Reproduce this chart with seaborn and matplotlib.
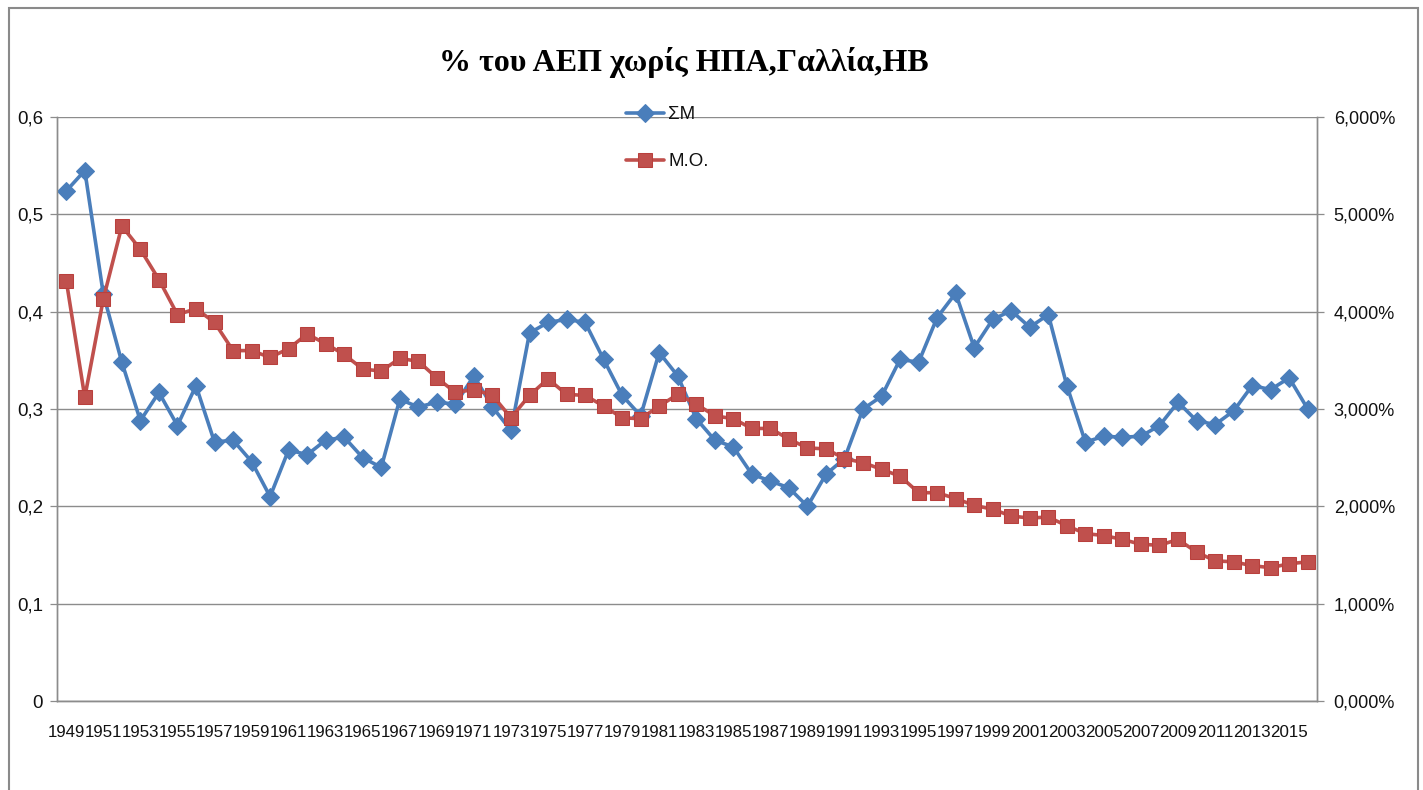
import numpy as np
import pandas as pd
import matplotlib
matplotlib.use("Agg")
import matplotlib.pyplot as plt
import matplotlib.ticker as mticker
from matplotlib.patches import Rectangle
import seaborn as sns

# ---------------- data ----------------
years = list(range(1949, 2017))

sm_values = [
    0.524, 0.545, 0.418, 0.348, 0.288, 0.317, 0.283, 0.324, 0.266, 0.268,  # 1949-1958
    0.246, 0.210, 0.258, 0.253, 0.268, 0.271, 0.250, 0.240, 0.310, 0.302,  # 1959-1968
    0.307, 0.305, 0.334, 0.302, 0.278, 0.378, 0.389, 0.392, 0.389, 0.351,  # 1969-1978
    0.314, 0.293, 0.358, 0.334, 0.290, 0.268, 0.261, 0.233, 0.226, 0.219,  # 1979-1988
    0.200, 0.233, 0.249, 0.300, 0.313, 0.351, 0.348, 0.394, 0.419, 0.363,  # 1989-1998
    0.392, 0.401, 0.384, 0.397, 0.324, 0.266, 0.272, 0.271, 0.272, 0.283,  # 1999-2008
    0.307, 0.288, 0.284, 0.298, 0.324, 0.320, 0.332, 0.300,                # 2009-2016
]

mo_values = [  # percent
    4.32, 3.12, 4.13, 4.88, 4.64, 4.33, 3.97, 4.03, 3.89, 3.60,  # 1949-1958
    3.60, 3.53, 3.62, 3.77, 3.67, 3.56, 3.41, 3.39, 3.52, 3.49,  # 1959-1968
    3.32, 3.17, 3.20, 3.14, 2.91, 3.14, 3.31, 3.15, 3.14, 3.03,  # 1969-1978
    2.91, 2.90, 3.03, 3.15, 3.05, 2.93, 2.90, 2.80, 2.80, 2.69,  # 1979-1988
    2.60, 2.59, 2.49, 2.45, 2.38, 2.31, 2.14, 2.14, 2.08, 2.01,  # 1989-1998
    1.97, 1.90, 1.88, 1.89, 1.80, 1.72, 1.70, 1.66, 1.61, 1.60,  # 1999-2008
    1.66, 1.53, 1.44, 1.43, 1.39, 1.37, 1.41, 1.43,              # 2009-2016
]

title_text = "% του ΑΕΠ χωρίς ΗΠΑ,Γαλλία,ΗΒ"
label_sm = "ΣΜ"
label_mo = "Μ.Ο."
left_ticks = [0, 0.1, 0.2, 0.3, 0.4, 0.5, 0.6]
right_ticks = [0, 1, 2, 3, 4, 5, 6]

# ---------------- style ----------------
sns.set_theme(style="white")
plt.rcParams["font.family"] = ["Liberation Sans", "DejaVu Sans"]

BLUE = "#4A7EBB"
RED = "#C0504D"
GRID = "#8C8C8C"
TXT = "#111111"

W, H = 1423, 790
fig = plt.figure(figsize=(W / 100, H / 100), dpi=100)
fig.patch.set_facecolor("white")

L, R, T, B = 57, 1317, 117, 701
ax = fig.add_axes([L / W, 1 - B / H, (R - L) / W, (B - T) / H])
ax2 = ax.twinx()

df = pd.DataFrame({"pos": np.arange(len(years)), "year": years,
                   "sm": sm_values, "mo": mo_values})

sns.lineplot(data=df, x="pos", y="sm", ax=ax, color=BLUE, linewidth=2.6,
             marker="D", markersize=9.5, markeredgecolor=BLUE, markerfacecolor=BLUE,
             label=label_sm, legend=False, zorder=3)
sns.lineplot(data=df, x="pos", y="mo", ax=ax2, color=RED, linewidth=2.6,
             marker="s", markersize=10.5, markeredgecolor="#B9403D", markerfacecolor=RED,
             label=label_mo, legend=False, zorder=3)

ax.set_xlim(-0.5, len(years) - 0.5)
ax.set_ylim(0, 0.6)
ax2.set_ylim(0, 6)

# y axes
ax.set_yticks(left_ticks)
ax.yaxis.set_major_formatter(mticker.FuncFormatter(
    lambda v, p: "0" if v == 0 else f"{v:.1f}".replace(".", ",")))
ax2.set_yticks(right_ticks)
ax2.yaxis.set_major_formatter(mticker.FuncFormatter(
    lambda v, p: f"{v:.3f}%".replace(".", ",")))

ax.grid(axis="y", color=GRID, linewidth=1.0)
ax.set_axisbelow(True)
ax.xaxis.grid(False)

# x axis: labels every other year, tick marks at every category boundary
ax.set_xticks(np.arange(0, len(years), 2))
ax.set_xticklabels([str(y) for y in years[::2]])
ax.set_xticks(np.arange(-0.5, len(years), 1), minor=True)
ax.tick_params(axis="x", which="major", length=0, pad=17, labelsize=12.2, colors=TXT)
ax.tick_params(axis="x", which="minor", length=6, width=0.9, color=GRID, direction="out")
ax.tick_params(axis="y", which="major", length=5, width=0.9, color=GRID, direction="out",
               labelsize=13.5, colors=TXT, pad=5)
ax2.tick_params(axis="y", which="major", length=5, width=0.9, color=GRID, direction="out",
                labelsize=13, colors=TXT, pad=7)

for a in (ax, ax2):
    a.set_xlabel("")
    a.set_ylabel("")
    for s in a.spines.values():
        s.set_color(GRID)
        s.set_linewidth(1.0)
    a.spines["top"].set_visible(False)
    a.set_facecolor("none")
ax2.grid(False)

# title
fig.text(684 / W, 1 - 62 / H, title_text, ha="center", va="center", color="black",
         fontsize=23, fontweight="bold", family=["Liberation Serif", "DejaVu Serif"])

# legend
h1, l1 = ax.get_legend_handles_labels()
h2, l2 = ax2.get_legend_handles_labels()
leg = fig.legend(h1 + h2, l1 + l2, loc="upper left",
                 bbox_to_anchor=(626 / W, 1 - 106 / H), frameon=False,
                 fontsize=13.5, handlelength=2.0, handletextpad=0.25,
                 labelspacing=1.6, borderpad=0, borderaxespad=0)
for t in leg.get_texts():
    t.set_color(TXT)

# chart border
fig.patches.append(Rectangle((9 / W, -0.02), (1418 - 9) / W, 1.02 - 8 / H,
                             transform=fig.transFigure, fill=False,
                             edgecolor="#8a8a8a", linewidth=1.5))

fig.savefig("out.png", dpi=100, facecolor="white")
